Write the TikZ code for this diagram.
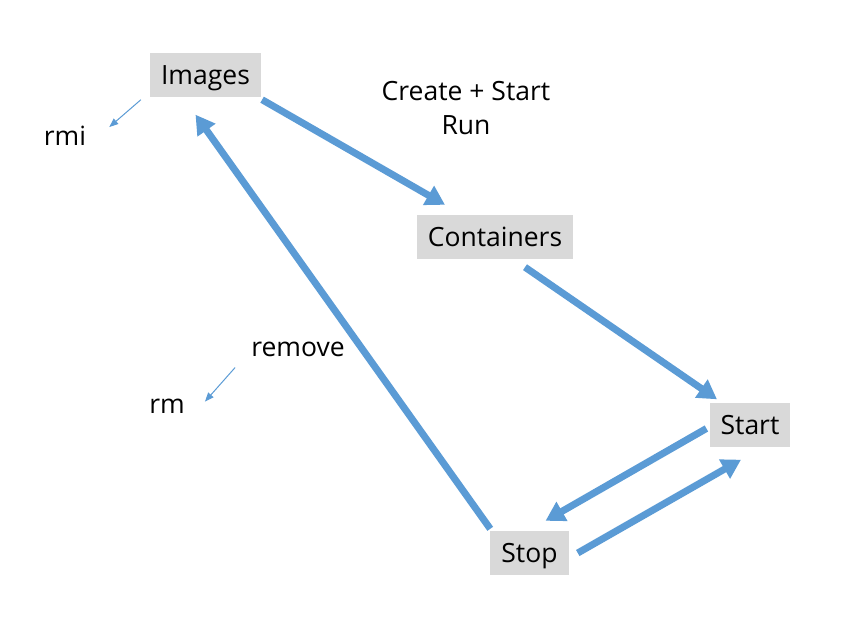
\documentclass[tikz,border=0pt]{standalone}
\usepackage{fontspec}
\setmainfont{Open Sans}
\usetikzlibrary{arrows.meta}

\definecolor{flowblue}{HTML}{5B9BD5}
\definecolor{boxgray}{HTML}{D9D9D9}

\tikzset{
  state/.style={fill=boxgray, inner xsep=11pt, text height=20pt, text depth=1pt, minimum height=44pt},
  cmd/.style={inner sep=0pt},
  bigarrow/.style={flowblue, line width=7pt, -{Triangle[length=19pt,width=21pt]}},
  smallarrow/.style={flowblue, line width=1pt, -{Triangle[length=9pt,width=7pt]}}
}

\begin{document}
\begin{tikzpicture}[x=1pt, y=-1pt, font=\fontsize{26.5}{31}\selectfont]
      \useasboundingbox (0,0) rectangle (861,629);

      % States
      \node[state] (images) at (205.5,74.5) {Images};
      \node[state] (containers) at (495,237) {Containers};
      \node[state] (start) at (750,424.5) {Start};
      \node[state] (stop) at (529.5,553) {Stop};

      % Commands
      \node[cmd] (create) at (466,91) {Create + Start};
      \node[cmd] (run) at (466,125) {Run};
      \node[cmd] (rmi) at (65,136) {rmi};
      \node[cmd] (remove) at (298,349) {remove};
      \node[cmd] (rm) at (167,406) {rm};

      % Images -> Containers -> Start
      \draw[bigarrow] ([xshift=1pt,yshift=-3pt]images.south east) -- ([xshift=-50pt,yshift=10pt]containers.north);
      \draw[bigarrow] ([xshift=30pt,yshift=-8pt]containers.south) -- ([xshift=-33pt,yshift=3pt]start.north);

      % Start <-> Stop
      \draw[bigarrow] ([xshift=-3pt,yshift=-4pt]start.west) -- ([xshift=16pt,yshift=10pt]stop.north);
      \draw[bigarrow] ([xshift=9pt]stop.east) -- ([xshift=-9pt,yshift=-13pt]start.south);

      % Stop -> Images
      \draw[bigarrow] ([xshift=0pt,yshift=2pt]stop.north west) -- ([xshift=-10pt,yshift=-18pt]images.south);

      % rmi, rm
      \draw[smallarrow] ([xshift=-9pt,yshift=-3pt]images.south west) -- ([xshift=23pt,yshift=-1pt]rmi.north east);
      \draw[smallarrow] ([xshift=-16pt,yshift=-11pt]remove.south west) -- ([xshift=20pt,yshift=-3pt]rm.north east);
    \end{tikzpicture}
\end{document}
